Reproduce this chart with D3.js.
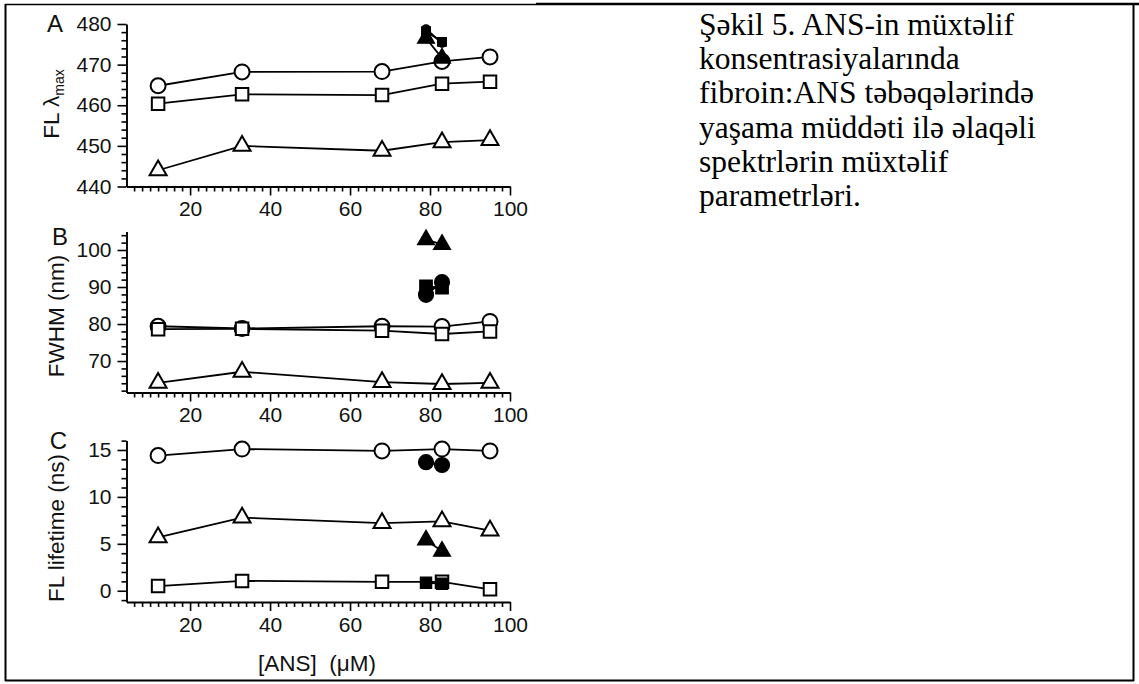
<!DOCTYPE html>
<html>
<head>
<meta charset="utf-8">
<script src="https://cdn.jsdelivr.net/npm/d3@7"></script>
<style>
  body { margin: 0; background: #fff; }
  svg { display: block; }
  .ax text { font-family: Arial, "Liberation Sans", sans-serif; font-size: 21px; fill: #111; }
  .ax .domain { stroke: #000; stroke-width: 1.9; }
  .ax .tick line { stroke: #000; stroke-width: 1.6; }
  .lab { font-family: Arial, "Liberation Sans", sans-serif; fill: #111; }
  .cap { font-family: "Liberation Serif", "Times New Roman", serif; font-size: 31.5px; fill: #000; }
</style>
</head>
<body>
<svg id="fig" width="1139" height="684"></svg>
<script>
// ANS concentrations (µM)
const ansOpen = [12, 33, 68, 83, 95];
const ansFilled = [79, 83];
const xTickValues = [20, 40, 60, 80, 100];

// A: emission maximum, FL λmax (nm)
const lambdaCircle   = [464.8, 468.2, 468.3, 470.8, 471.9];
const lambdaSquare   = [460.4, 462.7, 462.5, 465.3, 465.8];
const lambdaTriangle = [444.0, 450.0, 448.8, 450.9, 451.4];
const lambdaCircleFilled   = [478.8, 475.3];
const lambdaSquareFilled   = [478.2, 475.6];
const lambdaTriangleFilled = [476.5, 471.6];
const lambdaTicks = [440, 450, 460, 470, 480];

// B: FWHM (nm)
const fwhmCircle   = [79.4, 78.8, 79.4, 79.3, 80.7];
const fwhmSquare   = [78.6, 78.7, 78.2, 77.3, 78.0];
const fwhmTriangle = [64.1, 67.1, 64.3, 63.8, 64.1];
const fwhmCircleFilled   = [87.9, 91.3];
const fwhmSquareFilled   = [90.2, 89.8];
const fwhmTriangleFilled = [102.8, 101.5];
const fwhmTicks = [70, 80, 90, 100];

// C: fluorescence lifetime (ns)
const lifeCircle   = [14.4, 15.1, 14.9, 15.1, 14.9];
const lifeSquare   = [0.5, 1.05, 0.95, 0.95, 0.15];
const lifeTriangle = [5.7, 7.8, 7.2, 7.4, 6.4];
const lifeCircleFilled   = [13.7, 13.4];
const lifeSquareFilled   = [0.85, 0.75];
const lifeTriangleFilled = [5.4, 4.2];
const lifeTicks = [0, 5, 10, 15];

const captionLines = [
  "Şəkil 5. ANS-in müxtəlif",
  "konsentrasiyalarında",
  "fibroin:ANS təbəqələrində",
  "yaşama müddəti ilə əlaqəli",
  "spektrlərin müxtəlif",
  "parametrləri."
];

const svg = d3.select("#fig");
svg.append("rect").attr("width", 1139).attr("height", 684).attr("fill", "#fff");

const AXIS_X = 126.5;
const x = d3.scaleLinear().domain([4.1, 100]).range([AXIS_X, 510]);
const xMinor = d3.range(6, 100, 2).filter(v => v % 20 !== 0);

const panels = [
  { letter: "A", domain: [440, 480], range: [186.5, 24], major: lambdaTicks,
    minor: d3.range(442, 480, 2).filter(v => v % 10 !== 0),
    series: [lambdaCircle, lambdaSquare, lambdaTriangle],
    filled: [lambdaCircleFilled, lambdaSquareFilled, lambdaTriangleFilled],
    filledScale: [0.55, 0.7, 1], letterPos: [63, 32], labelPos: [59, 104] },
  { letter: "B", domain: [61.5, 105], range: [392.5, 231.5], major: fwhmTicks,
    minor: d3.range(62, 105, 2).filter(v => v % 10 !== 0),
    series: [fwhmCircle, fwhmSquare, fwhmTriangle],
    filled: [fwhmCircleFilled, fwhmSquareFilled, fwhmTriangleFilled],
    filledScale: [1, 1, 1], letterPos: [68, 245], labelPos: [64, 316] },
  { letter: "C", domain: [-1.2, 16], range: [602, 440.6], major: lifeTicks,
    minor: d3.range(-1, 17, 1).filter(v => v % 5 !== 0),
    series: [lifeCircle, lifeSquare, lifeTriangle],
    filled: [lifeCircleFilled, lifeSquareFilled, lifeTriangleFilled],
    filledScale: [1, 0.9, 1], letterPos: [67, 449], labelPos: [64, 528] }
];

const shapes = [d3.symbolCircle, d3.symbolSquare, d3.symbolTriangle];
// marker areas: circle r=7.5, square side 12.5, triangle side 17
const areas = [Math.PI * 7.5 * 7.5, 12.5 * 12.5, Math.sqrt(3) / 4 * 17 * 17];

const line = d3.line();

panels.forEach((p, i) => {
  const y = d3.scaleLinear().domain(p.domain).range(p.range);
  const g = svg.append("g");
  const baseY = p.range[0];

  // y axis: minor then major ticks
  g.append("g").attr("class", "ax").attr("transform", `translate(${AXIS_X},0)`)
    .call(d3.axisLeft(y).tickValues(p.minor).tickSize(5).tickFormat(""))
    .call(s => s.select(".domain").remove());
  g.append("g").attr("class", "ax").attr("transform", `translate(${AXIS_X},0)`)
    .call(d3.axisLeft(y).tickValues(p.major).tickSize(9).tickSizeOuter(0).tickPadding(6));

  // x axis
  g.append("g").attr("class", "ax").attr("transform", `translate(0,${baseY})`)
    .call(d3.axisBottom(x).tickValues(xMinor).tickSize(5).tickFormat(""))
    .call(s => s.select(".domain").remove());
  g.append("g").attr("class", "ax").attr("transform", `translate(0,${baseY})`)
    .call(d3.axisBottom(x).tickValues(xTickValues).tickSize(9).tickSizeOuter(0).tickPadding(6));

  // open-symbol series with connecting lines
  p.series.forEach((vals, k) => {
    const pts = vals.map((v, j) => [x(ansOpen[j]), y(v)]);
    g.append("path").attr("d", line(pts)).attr("fill", "none")
      .attr("stroke", "#000").attr("stroke-width", 1.8);
    g.selectAll(null).data(pts).join("path")
      .attr("transform", d => `translate(${d[0]},${d[1]})`)
      .attr("d", d3.symbol(shapes[k], areas[k]))
      .attr("fill", "#fff").attr("stroke", "#000").attr("stroke-width", 2);
  });

  // filled-symbol series
  p.filled.forEach((vals, k) => {
    const pts = vals.map((v, j) => [x(ansFilled[j]), y(v)]);
    g.append("path").attr("d", line(pts)).attr("fill", "none")
      .attr("stroke", "#000").attr("stroke-width", 1.8);
    const a = areas[k] * p.filledScale[k] * p.filledScale[k];
    g.selectAll(null).data(pts).join("path")
      .attr("transform", d => `translate(${d[0]},${d[1]})`)
      .attr("d", d3.symbol(shapes[k], a))
      .attr("fill", "#000").attr("stroke", "#000").attr("stroke-width", 1.2);
  });

  // panel letter
  svg.append("text").attr("class", "lab").attr("x", p.letterPos[0]).attr("y", p.letterPos[1])
    .attr("text-anchor", "end").attr("font-size", 24).text(p.letter);

  // y-axis title
  const t = svg.append("text").attr("class", "lab").attr("font-size", 22.5)
    .attr("text-anchor", "middle")
    .attr("transform", `translate(${p.labelPos[0]},${p.labelPos[1]}) rotate(-90)`);
  if (i === 0) {
    t.append("tspan").text("FL λ");
    t.append("tspan").attr("font-size", 14).attr("dy", 5).text("max");
  } else if (i === 1) {
    t.text("FWHM (nm)");
  } else {
    t.text("FL lifetime (ns)");
  }
});

// x-axis title
svg.append("text").attr("class", "lab").attr("font-size", 22.5)
  .attr("x", 317).attr("y", 671).attr("text-anchor", "middle")
  .attr("xml:space", "preserve").style("white-space", "pre")
  .text("[ANS]  (μM)");

// caption
svg.append("g").selectAll("text").data(captionLines).join("text")
  .attr("class", "cap").attr("x", 699).attr("y", (d, i) => 35 + i * 34.2)
  .text(d => d);

// frame
const frame = svg.append("g").attr("stroke", "#000").attr("fill", "none");
frame.append("line").attr("x1", 5.5).attr("y1", 4).attr("x2", 5.5).attr("y2", 681).attr("stroke-width", 2);
frame.append("line").attr("x1", 5).attr("y1", 680.5).attr("x2", 1134).attr("y2", 680.5).attr("stroke-width", 2);
frame.append("line").attr("x1", 1133.5).attr("y1", 4).attr("x2", 1133.5).attr("y2", 681).attr("stroke-width", 2);
frame.append("line").attr("x1", 5).attr("y1", 4.5).attr("x2", 536).attr("y2", 4.5).attr("stroke-width", 1.5);
frame.append("line").attr("x1", 536).attr("y1", 4).attr("x2", 1139).attr("y2", 4).attr("stroke-width", 2.5);
</script>
</body>
</html>
